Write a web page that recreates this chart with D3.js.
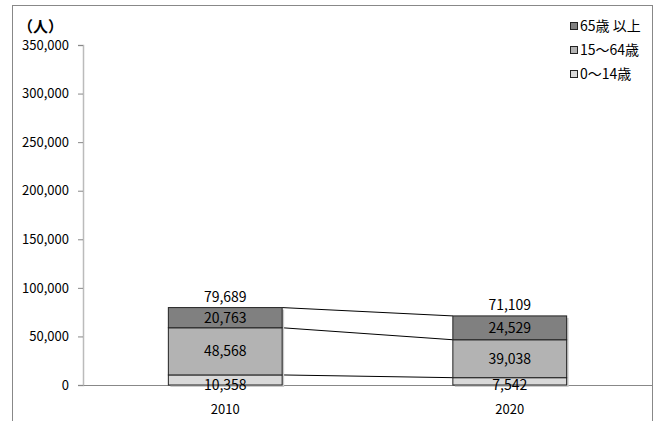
<!DOCTYPE html>
<html lang="ja">
<head>
<meta charset="utf-8" />
<script src="https://d3js.org/d3.v7.min.js"></script>
<style>
  body { margin: 0; background: #fff; }
  text { font-family: "Noto Sans CJK JP", "Noto Sans", sans-serif; }
</style>
</head>
<body>
<div id="chart"></div>
<script>
const years = ["2010", "2020"];
const age0to14 = [10358, 7542];
const age15to64 = [48568, 39038];
const age65plus = [20763, 24529];
const totals = [79689, 71109];
const yTicks = [0, 50000, 100000, 150000, 200000, 250000, 300000, 350000];
const seriesNames = ["0〜14歳", "15〜64歳", "65歳 以上"];
const seriesColors = ["#d9d9d9", "#b3b3b3", "#808080"];

const width = 655, height = 421;
const svg = d3.select("#chart").append("svg")
  .attr("width", width).attr("height", height);

// outer frame
svg.append("rect")
  .attr("x", 12.5).attr("y", 5.5)
  .attr("width", 640).attr("height", 430)
  .attr("fill", "none").attr("stroke", "#888");

const plotLeft = 83, plotRight = 652, plotTop = 45, plotBottom = 385;

const x = d3.scaleBand().domain(years).range([plotLeft, plotRight]).paddingInner(0.6).paddingOuter(0.3);
const y = d3.scaleLinear().domain([0, 350000]).range([plotBottom, plotTop]);

// stack
const rows = years.map((yr, i) => ({ year: yr, a: age0to14[i], b: age15to64[i], c: age65plus[i] }));
const stack = d3.stack().keys(["a", "b", "c"])(rows);

// y axis
const yAxis = svg.append("g")
  .attr("transform", `translate(${plotLeft},0)`)
  .call(d3.axisLeft(y).tickValues(yTicks).tickSize(5).tickPadding(9)
    .tickFormat(d3.format(",")));
yAxis.select(".domain").attr("stroke", "#bbb").attr("stroke-width", 1.5);
yAxis.selectAll(".tick line").attr("stroke", "#888");
yAxis.selectAll("text").attr("font-size", 13).attr("fill", "#000");

// x axis
const xAxis = svg.append("g")
  .attr("transform", `translate(0,${plotBottom})`)
  .call(d3.axisBottom(x).tickSize(0).tickPadding(20));
xAxis.select(".domain").attr("stroke", "#888");
xAxis.selectAll("text").attr("font-size", 13).attr("fill", "#000");

// connector lines between bars
for (let k = 0; k < stack.length; k++) {
  svg.append("line")
    .attr("x1", x(years[0]) + x.bandwidth())
    .attr("y1", y(stack[k][0][1]))
    .attr("x2", x(years[1]))
    .attr("y2", y(stack[k][1][1]))
    .attr("stroke", "#000").attr("stroke-width", 1);
}

// bar shadow
svg.append("g").selectAll("rect").data(years).join("rect")
  .attr("x", d => x(d) + 2)
  .attr("y", (d, i) => y(totals[i]) + 2)
  .attr("width", x.bandwidth())
  .attr("height", (d, i) => y(0) - y(totals[i]))
  .attr("fill", "#ccc");

// bars
stack.forEach((s, k) => {
  svg.append("g").selectAll("rect").data(s).join("rect")
    .attr("x", d => x(d.data.year))
    .attr("y", d => y(d[1]))
    .attr("width", x.bandwidth())
    .attr("height", d => y(d[0]) - y(d[1]))
    .attr("fill", seriesColors[k])
    .attr("stroke", "#222").attr("stroke-width", 1);
});

// segment labels
stack.forEach((s, k) => {
  svg.append("g").selectAll("text").data(s).join("text")
    .attr("x", d => x(d.data.year) + x.bandwidth() / 2)
    .attr("y", d => k === 0 ? y(0) + 5 : (y(d[0]) + y(d[1])) / 2 + 5)
    .attr("text-anchor", "middle")
    .attr("font-size", 14)
    .attr("fill", "#000")
    .text(d => d3.format(",")(d[1] - d[0]));
});

// totals
svg.append("g").selectAll("text").data(years).join("text")
  .attr("x", d => x(d) + x.bandwidth() / 2)
  .attr("y", (d, i) => y(totals[i]) - 6)
  .attr("text-anchor", "middle")
  .attr("font-size", 14)
  .text((d, i) => d3.format(",")(totals[i]));

// unit label
svg.append("text")
  .attr("x", 18).attr("y", 32)
  .attr("font-size", 15).attr("font-weight", "bold")
  .text("（人）");

// legend (65+ first)
const legendOrder = [2, 1, 0];
const lg = svg.append("g");
legendOrder.forEach((k, j) => {
  const ly = 31 + j * 24;
  lg.append("rect")
    .attr("x", 570.5).attr("y", ly - 8.5)
    .attr("width", 7).attr("height", 7)
    .attr("fill", seriesColors[k]).attr("stroke", "#222");
  lg.append("text")
    .attr("x", 580).attr("y", ly)
    .attr("font-size", 14)
    .text(seriesNames[k]);
});
</script>
</body>
</html>
